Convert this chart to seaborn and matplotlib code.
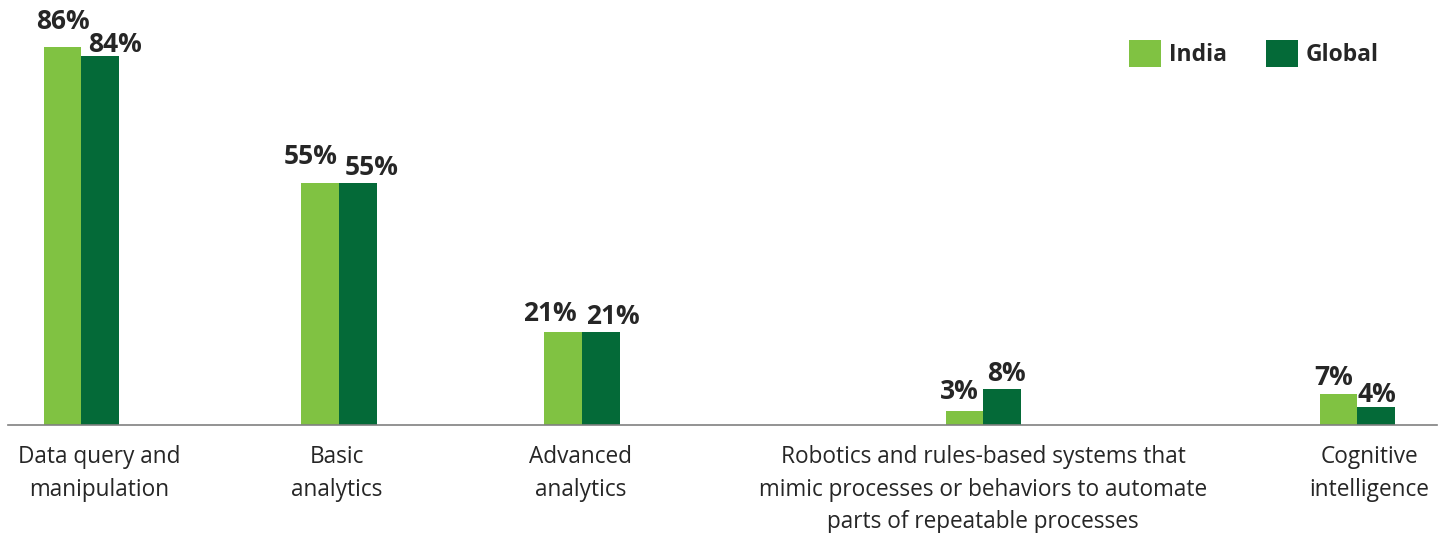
import matplotlib
matplotlib.use("Agg")
import matplotlib.pyplot as plt
import seaborn as sns
import pandas as pd

# ---- data -------------------------------------------------------------
categories = [
    "Data query and\nmanipulation",
    "Basic\nanalytics",
    "Advanced\nanalytics",
    "Robotics and rules-based systems that\nmimic processes or behaviors to automate\nparts of repeatable processes",
    "Cognitive\nintelligence",
]
india = [86, 55, 21, 3, 7]
global_ = [84, 55, 21, 8, 4]
series = ["India", "Global"]

# ---- layout (horizontal slot centres on a pixel-like axis) -------------
slot_centers = [81.5, 339, 582, 983.5, 1357.5]
label_centers = [99.5, 337, 581, 983, 1369]
# value-label nudges (dx, dy) in pixels, one per bar
india_offsets = [(0, 18), (-9, 19), (-13, 11), (-5, 12), (-5, 9)]
global_offsets = [(15, 4), (14, 8), (12, 8), (4, 8), (1, 5)]

colors = {"India": "#80C242", "Global": "#046A38"}
text_color = "#262626"

df = pd.DataFrame({
    "slot": slot_centers * 2,
    "share": india + global_,
    "region": ["India"] * len(india) + ["Global"] * len(global_),
})

sns.set_theme(style="white")
plt.rcParams["font.family"] = ["Open Sans", "DejaVu Sans"]

W, H = 1446, 533
fig = plt.figure(figsize=(W / 100, H / 100), dpi=100)
ax = fig.add_axes([8 / W, (H - 424.5) / H, (1437 - 8) / W, 424.5 / H])

sns.barplot(
    data=df, x="slot", y="share", hue="region", hue_order=series,
    palette=colors, native_scale=True, width=75.5 / 243,
    linewidth=0, saturation=1, ax=ax,
)

ax.set_xlim(8, 1437)
ax.set_ylim(0, 424.5 / 4.39)

# value labels above each bar
for container, vals, offs in zip(ax.containers, [india, global_],
                                 [india_offsets, global_offsets]):
    for patch, v, (dx, dy) in zip(container.patches, vals, offs):
        cx = patch.get_x() + patch.get_width() / 2
        ax.annotate(f"{v}%", (cx, patch.get_height()),
                    xytext=(dx, dy), textcoords="offset pixels",
                    ha="center", va="baseline", fontsize=19,
                    fontweight="bold", color=text_color)

# axes cosmetics
for side in ("left", "right", "top"):
    ax.spines[side].set_visible(False)
ax.spines["bottom"].set_color("#808080")
ax.spines["bottom"].set_linewidth(1.2)
ax.set_yticks([])
ax.set_xlabel("")
ax.set_ylabel("")
ax.set_xticks(label_centers)
ax.set_xticklabels(categories, fontsize=16.3, color=text_color, linespacing=1.46)
ax.tick_params(axis="x", length=0, pad=15)

# legend
old = ax.get_legend()
handles = old.legend_handles
labels = [t.get_text() for t in old.get_texts()]
old.remove()
leg = ax.legend(
    handles, labels, ncol=2, frameon=False, fontsize=16.5,
    loc="upper right", bbox_to_anchor=(1379 / W, 1 - 40 / H),
    bbox_transform=fig.transFigure, borderpad=0, borderaxespad=0,
    handlelength=1.4, handleheight=1.42, handletextpad=0.34,
    columnspacing=1.7,
)
for t in leg.get_texts():
    t.set_fontweight("bold")
    t.set_color(text_color)

fig.savefig("out.png", dpi=100)
